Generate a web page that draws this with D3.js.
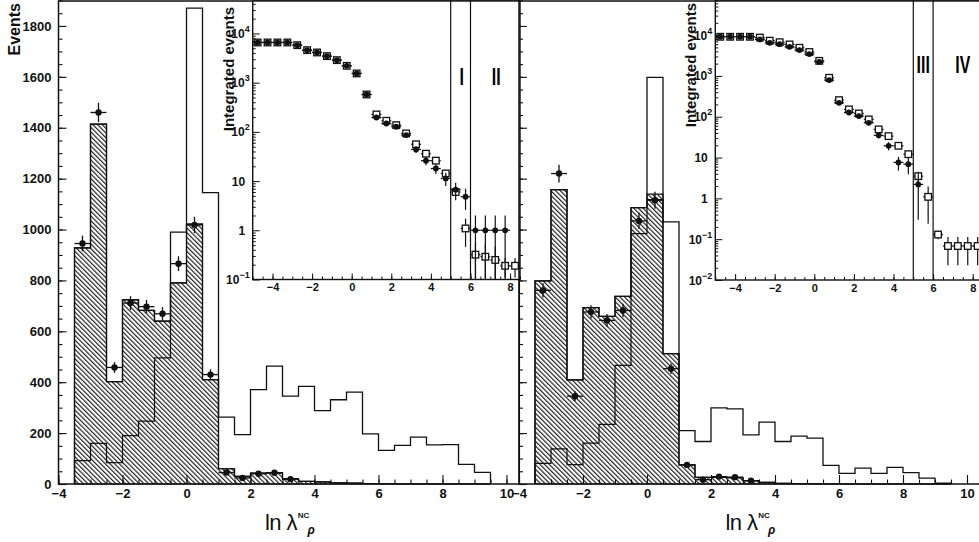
<!DOCTYPE html>
<html>
<head>
<meta charset="utf-8">
<script src="https://cdn.jsdelivr.net/npm/d3@7"></script>
<style>
body{margin:0;background:#fff;}
svg{display:block;font-family:"Liberation Sans",Arial,Helvetica,sans-serif;}
</style>
</head>
<body>
<svg id="chart" width="979" height="542"></svg>
<script>
// ---- data ----
// histogram bins: lower edges, width 0.5
var binLow = [-3.5,-3,-2.5,-2,-1.5,-1,-0.5,0,0.5,1,1.5,2,2.5,3,3.5,4,4.5,5,5.5,6,6.5,7,7.5,8,8.5,9];
var binWidth = 0.5;
// data points (bin centres)
var pointX = [-3.25,-2.75,-2.25,-1.75,-1.25,-0.75,-0.25,0.25,0.75,1.25,1.75,2.25,2.75,3.25];

// left panel
var leftOuter   = [928,1414,402,724,682,640,990,1870,1145,263,194,371,463,345,384,288,331,361,197,132,152,184,154,155,77,46];
var leftHatched = [928,1414,402,724,682,640,790,1021,410,60,30,43,44,20,10,8,5,4,2,1,0,0,0,0,0,0];
var leftInner   = [92,160,84,190,247,496,790,1021,410,60,30,43,44,20,10,8,5,4,2,1,0,0,0,0,0,0];
var leftData    = [945,1460,458,711,697,669,866,1018,430,45,24,40,44,19];
var leftErr     = [31,38,21,27,26,26,29,32,21,7,5,6,7,4];

// right panel
var rightOuter   = [798,1157,409,693,659,737,1086,1598,1030,210,167,299,295,193,243,167,188,180,73,42,62,42,65,45,23,3];
var rightHatched = [798,1157,409,693,659,737,1086,1139,512,75,26,26,25,13,6,3,2,1,0,0,0,0,0,0,0,0];
var rightInner   = [81,138,76,161,234,466,984,1118,512,75,26,26,25,13,6,3,2,1,0,0,0,0,0,0,0,0];
var rightData    = [761,1220,345,676,643,682,1034,1115,453,75,17,29,27,13];
var rightErr     = [28,35,19,26,25,26,32,33,21,9,4,5,5,4];

// insets: integrated events
var insetX = [-4.75,-4.25,-3.75,-3.25,-2.75,-2.25,-1.75,-1.25,-0.75,-0.25,0.25,0.75,1.25,1.75,2.25,2.75,3.25,3.75,4.25,4.75,5.25,5.75,6.25,6.75,7.25,7.75,8.25];
var leftIntData    = [6560,6560,6560,6560,5780,4580,4110,3460,2870,2200,1540,575,196,148,127,86,44,26,18,11.3,6.7,4.8,1,1,1,1];
var leftIntDataErr = [81,81,81,81,76,68,64,59,54,47,39,24,14,12,11,9,7,5,4,3.4,2.6,2.2,1,1,1,1];
var leftIntMC      = [6560,6560,6560,6560,5780,4580,4110,3460,2870,2200,1540,575,226,168,137,93,56,36,26,14.3,6.0,1.09,0.32,0.29,0.25,0.19,0.19];
var leftIntMCErr   = [20,20,20,20,18,16,15,14,13,11,9,5,3,2.5,2.2,1.8,1.4,1.1,1,0.7,0.5,0.63,0.25,0.25,0.22,0.08,0.08];

var rightIntData    = [9100,9100,9100,9100,7830,6470,6010,5170,4290,3420,2220,789,219,127,104,71,35,19.4,7.6,6.9,2.2];
var rightIntDataErr = [95,95,95,95,88,80,78,72,65,58,47,28,15,11,10,8.4,5.9,4.4,2.8,3,1.9];
var rightIntMC      = [9100,9100,9100,9100,8700,7300,6700,5900,4900,3850,2340,900,255,151,120,86,49,33.5,19.4,12.1,3.5,1.09,0.13,0.068,0.068,0.068,0.068];
var rightIntMCErr   = [20,20,20,20,19,17,16,15,14,12,9,6,3,2.5,2.2,1.8,1.5,1.2,1,0.8,1,0.85,0.03,0.045,0.045,0.045,0.045];

// region boundaries and labels
var regionCuts = [5, 6];
var leftRegionLabels = ["I","II"];
var leftRegionX = [5.55, 7.3];
var rightRegionLabels = ["III","IV"];
var rightRegionX = [5.5, 7.5];

// ticks
var yTickLabels = [0,200,400,600,800,1000,1200,1400,1600,1800];
var xTickLabels = [-4,-2,0,2,4,6,8,10];
var insetXTickLabels = [-4,-2,0,2,4,6,8];
var leftDecades = [0.1,1,10,100,1000,10000];
var rightDecades = [0.01,0.1,1,10,100,1000,10000];

// ---- drawing ----
var svg = d3.select("#chart");
var ink = "#111";

svg.append("defs").append("pattern").attr("id","hatch")
  .attr("patternUnits","userSpaceOnUse").attr("width",3.3).attr("height",10)
  .attr("patternTransform","rotate(-45)")
  .append("line").attr("x1",0.6).attr("y1",0).attr("x2",0.6).attr("y2",10)
  .attr("stroke",ink).attr("stroke-width",1.1);

var y = d3.scaleLinear().domain([0,1902]).range([484,0]);

function stepPath(vals, x){
  var p = "M"+x(binLow[0])+","+y(0);
  vals.forEach(function(v,i){
    p += "V"+y(v)+"H"+x(binLow[i]+binWidth);
  });
  return p+"V"+y(0);
}

function drawPanel(cfg){
  var g = svg.append("g");
  var x = d3.scaleLinear().domain([-4,10.4]).range([cfg.x0, cfg.x0+460.8]);

  // hatched component, its lower part and the open total
  g.append("path").attr("d",stepPath(cfg.hatched,x)+"Z")
    .attr("fill","url(#hatch)").attr("stroke",ink).attr("stroke-width",1.2);
  g.append("path").attr("d",stepPath(cfg.inner,x))
    .attr("fill","none").attr("stroke",ink).attr("stroke-width",1.2);
  g.append("path").attr("d",stepPath(cfg.outer,x))
    .attr("fill","none").attr("stroke",ink).attr("stroke-width",1.3);

  // data points
  var pts = g.append("g").selectAll("g").data(cfg.data).join("g");
  pts.append("line").attr("x1",function(d,i){return x(pointX[i]-binWidth/2);})
    .attr("x2",function(d,i){return x(pointX[i]+binWidth/2);})
    .attr("y1",function(d){return y(d);}).attr("y2",function(d){return y(d);})
    .attr("stroke",ink).attr("stroke-width",1.3);
  pts.append("line").attr("x1",function(d,i){return x(pointX[i]);})
    .attr("x2",function(d,i){return x(pointX[i]);})
    .attr("y1",function(d,i){return y(d-cfg.err[i]);})
    .attr("y2",function(d,i){return y(d+cfg.err[i]);})
    .attr("stroke",ink).attr("stroke-width",1.3);
  pts.append("circle").attr("cx",function(d,i){return x(pointX[i]);})
    .attr("cy",function(d){return y(d);}).attr("r",3.2).attr("fill",ink);

  // axes
  var minorX = d3.range(-4,10.41,0.5);
  var minorY = d3.range(0,1901,50);
  var ax = g.append("g").attr("transform","translate(0,"+y(0)+")");
  ax.call(d3.axisBottom(x).tickValues(minorX).tickSize(-4.5).tickFormat(""));
  ax.append("g").call(d3.axisBottom(x).tickValues(xTickLabels).tickSize(-9).tickPadding(5)
    .tickFormat(d3.format("d")));
  var ay = g.append("g").attr("transform","translate("+x(-4)+",0)");
  ay.call(d3.axisLeft(y).tickValues(minorY).tickSize(-4).tickFormat(""));
  ay.append("g").call(d3.axisLeft(y).tickValues(yTickLabels).tickSize(-8).tickPadding(7)
    .tickFormat(cfg.yLabels ? d3.format("d") : ""));
  g.selectAll(".domain").remove();
  g.selectAll(".tick line").attr("stroke",ink).attr("stroke-width",1.1);
  g.selectAll(".tick text").attr("fill",ink).attr("font-size",13).attr("font-weight","bold")
    .attr("font-family","'Liberation Sans',Arial,sans-serif");

  // frame
  g.append("rect").attr("x",x(-4)).attr("y",1).attr("width",x(10.4)-x(-4)).attr("height",y(0)-1)
    .attr("fill","none").attr("stroke",ink).attr("stroke-width",1.5);

  // x title
  var t = g.append("text").attr("x",cfg.x0+206.5).attr("y",530).attr("fill",ink)
    .attr("font-size",22).attr("letter-spacing",-0.6);
  t.append("tspan").text("ln λ");
  t.append("tspan").attr("font-size",8).attr("font-weight","bold").attr("letter-spacing",0)
    .attr("dx",1).attr("dy",-12).text("NC");
  t.append("tspan").attr("font-size",12).attr("font-style","italic").attr("font-weight","bold")
    .attr("letter-spacing",0).attr("dx",-2).attr("dy",16).text("ρ");

  drawInset(cfg.inset);
}

function fmtPow(v){
  var e = Math.round(Math.log10(v));
  return {base: e===0 ? "1" : "10", exp: (e===0||e===1) ? "" : (e<0 ? "\u2212"+(-e) : ""+e)};
}

function drawInset(c){
  var g = svg.append("g");
  var x = d3.scaleLinear().domain([-5,8.5]).range([c.x0, c.x0+267.3]);
  var ly = d3.scaleLog().domain([c.decades[0], c.top]).range([c.bottom,0]);
  var clipId = "clip"+Math.round(c.x0);
  g.append("clipPath").attr("id",clipId).append("rect")
    .attr("x",x(-5)).attr("y",0).attr("width",x(8.5)-x(-5)).attr("height",c.bottom);

  g.append("rect").attr("x",x(-5)).attr("y",1).attr("width",x(8.5)-x(-5)).attr("height",c.bottom-1)
    .attr("fill","#fff");

  var plot = g.append("g").attr("clip-path","url(#"+clipId+")");
  var ymin = c.decades[0]*0.5;

  // region lines
  plot.selectAll("line.cut").data(regionCuts).join("line").attr("class","cut")
    .attr("x1",function(d){return x(d);}).attr("x2",function(d){return x(d);})
    .attr("y1",0).attr("y2",c.bottom).attr("stroke",ink).attr("stroke-width",1.2);

  function series(vals, errs, kind){
    var s = plot.append("g").selectAll("g").data(vals).join("g");
    s.append("line").attr("x1",function(d,i){return x(insetX[i]-binWidth/2);})
      .attr("x2",function(d,i){return x(insetX[i]+binWidth/2);})
      .attr("y1",function(d){return ly(d);}).attr("y2",function(d){return ly(d);})
      .attr("stroke",ink).attr("stroke-width",1.2);
    s.append("line").attr("x1",function(d,i){return x(insetX[i]);})
      .attr("x2",function(d,i){return x(insetX[i]);})
      .attr("y1",function(d,i){return ly(Math.max(d-errs[i],ymin));})
      .attr("y2",function(d,i){return ly(d+errs[i]);})
      .attr("stroke",ink).attr("stroke-width",1.2);
    if(kind==="square"){
      s.append("rect").attr("x",function(d,i){return x(insetX[i])-3.3;})
        .attr("y",function(d){return ly(d)-3.3;}).attr("width",6.6).attr("height",6.6)
        .attr("fill","#fff").attr("stroke",ink).attr("stroke-width",1.3);
    } else {
      s.append("circle").attr("cx",function(d,i){return x(insetX[i]);})
        .attr("cy",function(d){return ly(d);}).attr("r",2.9).attr("fill",ink);
    }
  }
  series(c.mc, c.mcErr, "square");
  series(c.data, c.dataErr, "circle");

  // region labels (narrow roman numerals)
  g.selectAll("g.reg").data(c.labels).join("g").attr("class","reg")
    .attr("transform",function(d,i){return "translate("+x(c.labelX[i])+","+c.labelY+") scale(0.66,1)";})
    .append("text").attr("text-anchor","middle").attr("font-size",24).attr("font-weight","bold")
    .attr("fill","#000").text(function(d){return d;});

  // axes
  var minorX = d3.range(-5,8.51,0.5);
  var ax = g.append("g").attr("transform","translate(0,"+c.bottom+")");
  ax.call(d3.axisBottom(x).tickValues(minorX).tickSize(-3).tickFormat(""));
  ax.append("g").call(d3.axisBottom(x).tickValues(insetXTickLabels).tickSize(-6).tickPadding(4)
    .tickFormat(d3.format("d")));
  ax.selectAll(".tick text").attr("font-size",11);

  var minorY = [];
  c.decades.forEach(function(dv){
    [2,3,4,5,6,7,8,9].forEach(function(m){ if(dv*m < c.top) minorY.push(dv*m); });
  });
  var ay = g.append("g").attr("transform","translate("+x(-5)+",0)");
  ay.call(d3.axisLeft(ly).tickValues(minorY).tickSize(-3).tickFormat(""));
  ay.append("g").call(d3.axisLeft(ly).tickValues(c.decades).tickSize(-7).tickFormat(""));
  g.selectAll(".domain").remove();
  g.selectAll(".tick line").attr("stroke",ink).attr("stroke-width",1);
  g.selectAll(".tick text").attr("fill",ink).attr("font-weight","bold")
    .attr("font-family","'Liberation Sans',Arial,sans-serif");

  var lab = g.append("g").selectAll("text").data(c.decades).join("text")
    .attr("x",function(d){ return fmtPow(d).exp ? x(-5)-3 : x(-5)-7.5; })
    .attr("y",function(d){return ly(d)+4.5;})
    .attr("text-anchor","end").attr("font-size",12).attr("font-weight","bold").attr("fill",ink);
  lab.append("tspan").text(function(d){return fmtPow(d).base;});
  lab.append("tspan").attr("font-size",9).attr("dy",-6)
    .text(function(d){return fmtPow(d).exp;});

  g.append("rect").attr("x",x(-5)).attr("y",1).attr("width",x(8.5)-x(-5)).attr("height",c.bottom-1)
    .attr("fill","none").attr("stroke",ink).attr("stroke-width",1.4);

  g.append("text").attr("transform","translate("+c.titleX+","+c.titleEnd+") rotate(-90)")
    .attr("text-anchor","end").attr("font-size",15).attr("font-weight","bold").attr("fill",ink)
    .text("Integrated events");
}

drawPanel({
  x0: 58.5, outer: leftOuter, hatched: leftHatched, inner: leftInner,
  data: leftData, err: leftErr, yLabels: true,
  inset: {x0: 252.7, bottom: 279.5, top: Math.pow(10,4.68), decades: leftDecades,
    data: leftIntData, dataErr: leftIntDataErr, mc: leftIntMC, mcErr: leftIntMCErr,
    labels: leftRegionLabels, labelX: leftRegionX, labelY: 84.5, titleX: 234, titleEnd: 7}
});
drawPanel({
  x0: 519, outer: rightOuter, hatched: rightHatched, inner: rightInner,
  data: rightData, err: rightErr, yLabels: false,
  inset: {x0: 715.3, bottom: 280, top: Math.pow(10,4.86), decades: rightDecades,
    data: rightIntData, dataErr: rightIntDataErr, mc: rightIntMC, mcErr: rightIntMCErr,
    labels: rightRegionLabels, labelX: rightRegionX, labelY: 73, titleX: 696, titleEnd: 3}
});

// y title
svg.append("text").attr("transform","translate(20,3) rotate(-90)")
  .attr("text-anchor","end").attr("font-size",16).attr("font-weight","bold").attr("fill",ink)
  .text("Events");
</script>
</body>
</html>
